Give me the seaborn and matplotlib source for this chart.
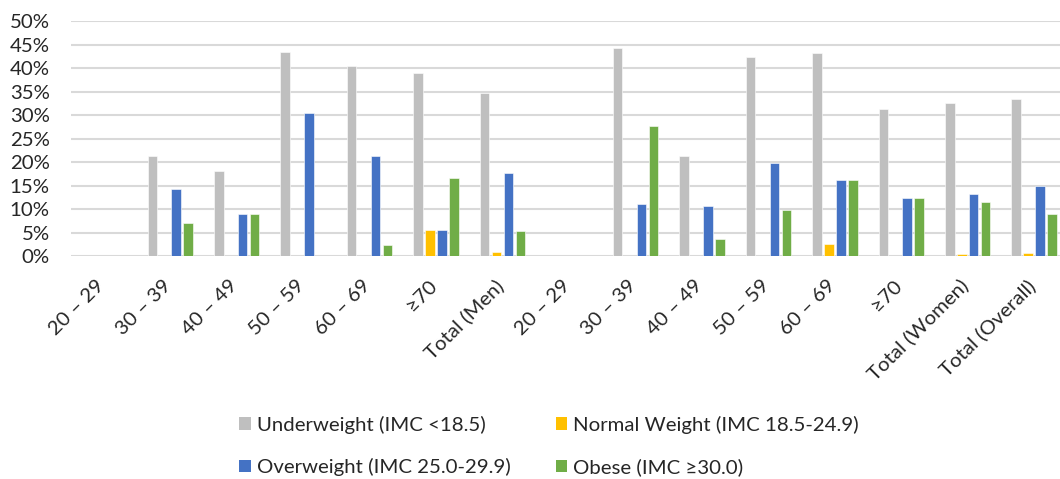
import numpy as np
import pandas as pd
import seaborn as sns
import matplotlib
matplotlib.use("Agg")
import matplotlib.pyplot as plt
import matplotlib.transforms as mtransforms
from matplotlib.patches import Patch

categories = ["20 – 29", "30 – 39", "40 – 49", "50 – 59", "60 – 69", "≥70", "Total (Men)",
              "20 – 29 ", "30 – 39 ", "40 – 49 ", "50 – 59 ", "60 – 69 ", "≥70 ",
              "Total (Women)", "Total (Overall)"]
tick_labels = ["20 – 29", "30 – 39", "40 – 49", "50 – 59", "60 – 69", "≥70", "Total (Men)",
               "20 – 29", "30 – 39", "40 – 49", "50 – 59", "60 – 69", "≥70",
               "Total (Women)", "Total (Overall)"]
series = ["Underweight (IMC <18.5)", "Normal Weight (IMC 18.5-24.9)",
          "Overweight (IMC 25.0-29.9)", "Obese (IMC ≥30.0)"]

underweight = [0, 21.4, 18.2, 43.5, 40.5, 38.9, 34.7, 0, 44.4, 21.4, 42.4, 43.2, 31.25, 32.7, 33.4]
normal = [0, 0, 0, 0, 0, 5.6, 0.9, 0, 0, 0, 0, 2.7, 0, 0.5, 0.7]
overweight = [0, 14.3, 9.1, 30.4, 21.4, 5.6, 17.8, 0, 11.1, 10.7, 19.9, 16.2, 12.5, 13.2, 14.9]
obese = [0, 7.1, 9.1, 0, 2.4, 16.7, 5.3, 0, 27.8, 3.6, 9.9, 16.2, 12.5, 11.5, 9.0]

colors = ["#BFBFBF", "#FFC000", "#4472C4", "#70AD47"]

rows = []
for s, vals in zip(series, [underweight, normal, overweight, obese]):
    for c, v in zip(categories, vals):
        rows.append({"category": c, "series": s, "value": v / 100.0})
df = pd.DataFrame(rows)

sns.set_style("white")
plt.rcParams["font.family"] = ["Lato", "DejaVu Sans"]
FS = 14.7
TXT = "#262626"

fig = plt.figure(figsize=(10.6, 4.79), dpi=100)
ax = fig.add_axes([70.6 / 1060, 222.7 / 479, 996.8 / 1060, 235 / 479])

sns.barplot(data=df, x="category", y="value", hue="series", order=categories,
            hue_order=series, palette=colors, saturation=1, width=0.72, gap=0.2, ax=ax,
            legend=False, edgecolor="white", linewidth=0.4)

ax.set_xlim(-0.5, len(categories) - 0.5)
ax.set_ylim(0, 0.5)
yt = np.arange(0, 0.501, 0.05)
ax.set_yticks(yt)
ax.set_yticklabels([f"{int(round(t*100))}%" for t in yt], fontsize=FS, color=TXT)
ax.yaxis.grid(True, color="#D9D9D9", linewidth=1.5)
ax.set_axisbelow(True)
for sp in ax.spines.values():
    sp.set_visible(False)
ax.tick_params(axis="y", length=0, pad=15)
ax.tick_params(axis="x", length=0, pad=19)
ax.set_xlabel("")
ax.set_ylabel("")

ax.set_xticks(range(len(categories)))
ax.set_xticklabels(tick_labels, rotation=45, ha="right", va="center",
                   rotation_mode="anchor", fontsize=FS, color=TXT)
offset = mtransforms.ScaledTranslation(-2 / 100, 0, fig.dpi_scale_trans)
for lab in ax.get_xticklabels():
    lab.set_transform(lab.get_transform() + offset)

handles = [Patch(facecolor=c, edgecolor="none") for c in colors]
order = [0, 2, 1, 3]
leg = fig.legend([handles[i] for i in order], [series[i] for i in order],
                 ncol=2, loc="center", frameon=False,
                 fontsize=FS, handlelength=0.57, handleheight=0.57, handletextpad=0.3,
                 columnspacing=2.2, labelspacing=1.2, borderpad=0, borderaxespad=0)
leg.set_bbox_to_anchor((549 / 1060, 1 - 446 / 479), transform=fig.transFigure)
for t in leg.get_texts():
    t.set_color(TXT)

fig.savefig("out.png", dpi=100)
